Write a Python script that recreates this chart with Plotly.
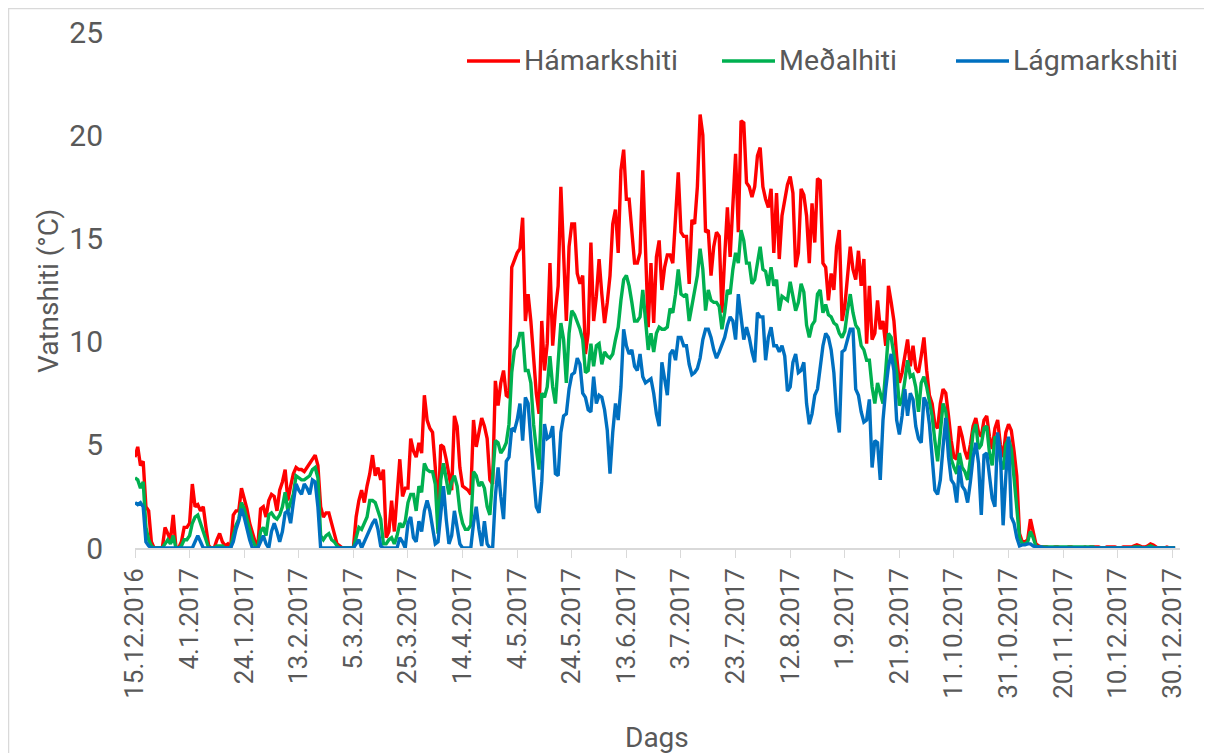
import pandas as pd
import plotly.graph_objects as go

# daily water temperature, 15.12.2016 - 31.12.2017
start_date = "2016-12-15"

hamark = [
    4.4, 4.9, 4.0, 4.2, 2.0, 1.8, 0.3, 0, 0, 0,
    0, 1.0, 0.7, 0.4, 1.6, 0, 0, 0.3, 1.0, 1.0,
    1.2, 3.1, 2.0, 2.1, 1.8, 2.0, 1.0, 0.1, 0, 0,
    0.4, 0.7, 0.3, 0.1, 0.2, 0, 1.6, 1.8, 1.8, 2.9,
    2.4, 1.9, 1.2, 0.7, 0.3, 0.1, 1.9, 2.0, 1.5, 2.3,
    2.6, 2.5, 1.8, 2.8, 3.2, 3.8, 2.3, 3.0, 3.6, 3.9,
    3.8, 3.8, 3.7, 3.9, 4.1, 4.3, 4.5, 4.0, 2.0, 1.5,
    1.7, 1.7, 1.2, 0.8, 0.2, 0.1, 0, 0, 0, 0,
    0, 1.5, 2.3, 2.8, 2.2, 3.0, 3.6, 4.5, 3.5, 3.9,
    3.3, 3.8, 0.5, 0.8, 2.3, 0.8, 2.5, 4.3, 2.5, 2.9,
    2.9, 5.3, 4.7, 4.4, 5.1, 4.6, 7.4, 6.2, 5.8, 5.6,
    3.9, 1.5, 5.0, 4.9, 4.3, 3.6, 2.8, 6.4, 5.9, 3.9,
    3.0, 2.9, 2.8, 2.6, 6.2, 4.9, 5.7, 6.3, 5.9, 5.3,
    3.3, 3.1, 8.1, 6.9, 8.0, 8.6, 7.4, 7.3, 13.6, 14.0,
    14.3, 14.5, 16.0, 11.0, 12.3, 11.0, 9.0, 7.5, 6.5, 11.0,
    8.6, 9.9, 13.8, 9.8, 11.5, 12.7, 17.5, 14.4, 11.0, 14.6,
    15.7, 15.7, 13.3, 12.8, 13.2, 9.4, 10.4, 14.8, 11.0, 12.2,
    14.0, 12.3, 10.9, 11.9, 13.2, 15.7, 16.4, 14.3, 18.3, 19.3,
    16.9, 16.9, 15.3, 13.8, 13.8, 14.3, 18.3, 14.0, 10.7, 13.8,
    10.9, 14.1, 14.9, 12.5, 13.6, 14.2, 14.2, 13.8, 16.4, 18.2,
    15.3, 15.1, 15.1, 12.8, 15.9, 15.7, 17.5, 21.0, 20.0, 15.3,
    15.4, 13.2, 14.6, 15.3, 15.1, 11.4, 14.1, 16.5, 14.1, 17.0,
    19.1, 15.3, 20.7, 20.6, 17.7, 17.5, 17.0, 17.5, 19.0, 19.4,
    17.5, 16.9, 16.5, 17.4, 14.3, 17.2, 14.0, 16.1, 16.8, 17.6,
    18.0, 17.2, 13.6, 14.3, 17.4, 17.1, 16.1, 13.8, 16.7, 14.8,
    17.9, 17.8, 13.8, 13.6, 12.0, 13.3, 12.5, 14.6, 15.4, 11.0,
    11.7, 13.3, 14.6, 13.5, 13.0, 14.4, 12.7, 14.0, 9.9, 12.7,
    10.1, 10.4, 12.0, 10.6, 11.0, 9.8, 12.7, 11.9, 11.0, 9.3,
    8.0, 8.5, 9.4, 10.1, 8.8, 9.8, 8.7, 8.5, 9.3, 10.2,
    8.6, 7.4, 7.0, 6.0, 5.8, 7.0, 7.7, 7.5, 6.4, 5.2,
    4.4, 4.3, 5.9, 5.4, 4.7, 4.3, 5.0, 5.9, 6.3, 5.6,
    5.4, 6.2, 6.4, 5.4, 4.8, 5.8, 6.2, 5.0, 4.4, 5.6,
    6.0, 5.7, 4.7, 3.5, 0.7, 0.3, 0.3, 0.4, 1.4, 0.8,
    0.2, 0.1, 0.05, 0.05, 0.05, 0, 0, 0.05, 0.05, 0,
    0, 0, 0.05, 0.05, 0, 0, 0, 0, 0.05, 0,
    0.05, 0.05, 0.05, 0.05, 0, 0, 0.05, 0.05, 0.05, 0.05,
    0, 0, 0.05, 0.05, 0.05, 0.05, 0.1, 0.15, 0.1, 0.05,
    0.05, 0.1, 0.2, 0.15, 0.05, 0, 0, 0, 0.05, 0,
    0, 0,
]

medal = [
    3.4, 3.3, 2.9, 3.2, 1.0, 0.4, 0.1, 0, 0, 0,
    0, 0.2, 0.4, 0.2, 0.6, 0, 0, 0.1, 0.4, 0.4,
    0.6, 1.2, 1.5, 1.6, 1.2, 0.9, 0.4, 0, 0, 0,
    0.1, 0.1, 0.1, 0, 0, 0, 0.6, 1.1, 1.4, 2.2,
    1.9, 1.4, 0.9, 0.4, 0.1, 0, 0.8, 1.0, 0.6, 1.6,
    1.7, 1.5, 1.4, 1.6, 2.0, 2.7, 1.8, 2.2, 2.6, 3.5,
    3.4, 3.3, 3.3, 3.4, 3.5, 3.8, 3.9, 3.4, 0.6, 0.4,
    0.6, 0.7, 0.4, 0.3, 0.1, 0, 0, 0, 0, 0,
    0, 0.5, 1.0, 0.9, 1.2, 1.5, 2.3, 2.3, 2.2, 1.8,
    1.4, 0.2, 0.2, 0.4, 0.5, 0.2, 0.6, 1.2, 1.0, 1.3,
    2.2, 2.6, 2.6, 1.8, 3.0, 2.7, 4.1, 3.8, 3.7, 3.7,
    3.1, 0.7, 3.3, 4.1, 3.4, 2.6, 3.2, 3.5, 3.0, 1.8,
    1.2, 0.9, 0.9, 1.1, 3.7, 3.5, 3.0, 3.2, 2.9, 2.0,
    1.6, 3.5, 5.2, 5.1, 4.6, 4.8, 5.1, 6.0, 8.5, 9.6,
    9.8, 10.4, 10.4, 8.6, 8.6, 8.0, 6.0, 4.8, 3.8, 7.5,
    7.3, 7.8, 9.3, 7.8, 7.0, 9.0, 10.9, 10.1, 8.0, 10.4,
    11.5, 11.3, 11.0, 10.6, 10.1, 8.5, 8.6, 9.9, 8.8, 9.8,
    9.9, 8.9, 9.5, 9.3, 9.2, 9.4, 10.1, 10.7, 12.0, 13.0,
    13.2, 12.7, 11.9, 11.0, 11.0, 11.2, 12.5, 11.2, 9.6, 10.4,
    9.5, 10.4, 10.7, 10.6, 10.6, 10.7, 11.6, 11.4, 12.3, 13.5,
    12.3, 12.2, 12.3, 11.0, 11.7, 12.3, 13.2, 14.5, 13.5, 11.5,
    12.5, 12.0, 11.9, 11.9, 11.7, 10.6, 11.4, 12.5, 12.3, 13.5,
    14.3, 13.8, 15.4, 14.9, 13.8, 13.8, 12.8, 13.0, 13.8, 14.6,
    13.5, 13.4, 12.7, 13.6, 12.7, 13.0, 11.5, 12.2, 12.1, 12.0,
    12.9, 12.2, 11.5, 11.9, 12.8, 12.4, 10.8, 10.2, 10.8, 11.0,
    12.3, 12.5, 11.4, 11.8, 11.3, 11.2, 10.9, 10.8, 10.4, 10.2,
    10.5, 11.5, 12.3, 11.4, 10.8, 10.6, 9.8, 9.6, 9.1, 9.1,
    7.8, 7.0, 8.0, 7.5, 7.0, 8.6, 10.4, 10.2, 9.3, 8.5,
    6.9, 7.2, 8.1, 9.1, 8.3, 8.4, 7.8, 6.6, 8.0, 8.3,
    7.8, 7.0, 6.4, 5.2, 4.2, 5.6, 7.0, 6.6, 5.6, 4.3,
    3.9, 3.6, 4.6, 3.9, 3.7, 3.3, 4.3, 5.6, 6.0, 4.8,
    5.0, 5.8, 5.9, 4.6, 4.0, 5.4, 5.3, 4.2, 3.8, 5.0,
    5.3, 4.8, 3.4, 2.0, 0.5, 0.2, 0.2, 0.3, 0.8, 0.5,
    0.1, 0.05, 0.05, 0.05, 0.05, 0.05, 0.05, 0.05, 0.05, 0.05,
    0.05, 0.05, 0.05, 0.05, 0.05, 0.05, 0.05, 0.05, 0.05, 0.05,
    0.05, 0.05, 0, 0, 0, 0, 0, 0, 0, 0,
    0, 0, 0, 0, 0, 0, 0.05, 0.05, 0.05, 0,
    0, 0.05, 0.1, 0.05, 0, 0, 0, 0, 0, 0,
    0, 0,
]

lagmark = [
    2.2, 2.1, 2.2, 2.0, 0.3, 0.1, 0, 0, 0, 0,
    0, 0, 0, 0, 0, 0, 0, 0, 0, 0,
    0, 0, 0.3, 0.6, 0.3, 0, 0, 0, 0, 0,
    0, 0, 0, 0, 0, 0, 0.3, 0.9, 1.3, 1.9,
    1.5, 0.9, 0.4, 0, 0, 0, 0.3, 0.6, 0.2, 0,
    0.8, 1.2, 0.8, 0.3, 0.8, 1.7, 1.8, 1.2, 2.2, 3.1,
    2.8, 2.6, 3.1, 2.9, 2.6, 3.3, 3.2, 2.0, 0, 0,
    0, 0, 0, 0, 0, 0, 0, 0, 0, 0,
    0, 0.2, 0.4, 0, 0.3, 0.6, 1.0, 1.2, 1.4, 0.9,
    0.1, 0, 0, 0, 0, 0, 0, 0.5, 0.3, 0,
    1.2, 1.5, 0.5, 0.3, 1.3, 0.8, 1.8, 2.3, 1.8, 1.0,
    0.2, 0.3, 1.6, 3.0, 1.4, 0.2, 0.6, 1.8, 1.0, 0.2,
    0, 0, 0, 0, 1.2, 2.0, 0.9, 0.1, 1.3, 0.2,
    0, 0, 2.5, 3.9, 2.5, 1.4, 4.2, 4.4, 5.8, 5.7,
    6.2, 7.0, 5.2, 7.3, 7.0, 5.0, 3.5, 2.0, 1.7, 3.2,
    6.0, 5.3, 5.4, 5.9, 3.6, 3.5, 5.6, 6.4, 6.5, 7.7,
    8.4, 8.5, 9.2, 8.9, 7.5, 7.3, 6.7, 6.6, 8.3, 7.0,
    7.4, 7.3, 6.7, 5.7, 3.6, 5.6, 7.0, 6.2, 7.8, 10.6,
    9.8, 9.4, 9.6, 8.8, 8.6, 9.4, 8.3, 8.0, 8.1, 8.2,
    7.5, 6.5, 5.9, 9.0, 8.2, 7.4, 9.4, 9.6, 9.1, 10.2,
    10.2, 9.8, 9.8, 8.9, 8.4, 8.5, 8.7, 9.2, 10.1, 10.6,
    10.6, 10.2, 9.6, 9.2, 9.5, 9.8, 10.2, 10.8, 11.2, 11.0,
    10.1, 12.3, 11.2, 10.1, 10.7, 10.2, 9.5, 9.0, 11.4, 11.2,
    11.2, 9.1, 10.2, 10.7, 9.8, 9.8, 9.5, 9.8, 9.3, 7.6,
    7.8, 9.0, 9.4, 8.5, 8.6, 9.0, 7.0, 6.0, 6.5, 7.4,
    7.7, 8.8, 9.8, 10.4, 10.2, 9.6, 8.5, 6.5, 5.6, 9.5,
    9.6, 10.1, 10.6, 10.6, 7.7, 7.4, 6.6, 6.1, 6.2, 7.2,
    3.9, 5.2, 5.1, 3.3, 6.2, 7.7, 8.8, 9.4, 8.6, 6.2,
    5.5, 6.4, 7.7, 6.4, 7.5, 7.2, 5.9, 5.3, 5.1, 7.3,
    7.0, 6.0, 4.6, 2.8, 2.6, 3.3, 4.9, 6.3, 4.4, 3.3,
    3.1, 2.2, 4.0, 3.0, 2.8, 2.2, 3.2, 4.4, 5.1, 4.1,
    1.6, 4.5, 4.6, 3.6, 2.4, 2.0, 5.6, 4.6, 1.1, 3.5,
    5.4, 1.5, 1.2, 0.5, 0.1, 0.15, 0.15, 0.2, 0.2, 0.1,
    0.05, 0.05, 0.05, 0, 0, 0, 0, 0, 0, 0,
    0, 0, 0, 0, 0, 0, 0, 0, 0, 0,
    0, 0, 0, 0, 0, 0, 0, 0, 0, 0,
    0, 0, 0, 0, 0, 0, 0, 0, 0, 0,
    0, 0, 0, 0, 0, 0, 0, 0, 0, 0,
    0, 0,
]

series_names = ["Hámarkshiti", "Meðalhiti", "Lágmarkshiti"]
series_colors = ["#FF0000", "#00B050", "#0070C0"]

tick_labels = ["15.12.2016", "4.1.2017", "24.1.2017", "13.2.2017", "5.3.2017",
               "25.3.2017", "14.4.2017", "4.5.2017", "24.5.2017", "13.6.2017",
               "3.7.2017", "23.7.2017", "12.8.2017", "1.9.2017", "21.9.2017",
               "11.10.2017", "31.10.2017", "20.11.2017", "10.12.2017", "30.12.2017"]

dates = pd.date_range(start_date, periods=len(hamark), freq="D")
tick_vals = pd.to_datetime(tick_labels, format="%d.%m.%Y")

FONT = "Roboto, sans-serif"
GREY = "#595959"

# the page puts the figure 8px in from the top-left corner,
# so the figure is made 8px smaller to fit the window exactly
OFF = 8
W, H = 1212 - OFF, 753 - OFF
# plot area in figure pixels
L, R, T, B = 135 - OFF, 1180 - OFF, 32 - OFF, 548 - OFF


def px(x):
    return (x - OFF - L) / (R - L)


def py(y):
    return (B - (y - OFF)) / (B - T)


fig = go.Figure()
for name, vals, color in zip(series_names, [hamark, medal, lagmark], series_colors):
    fig.add_trace(go.Scatter(x=dates, y=vals, mode="lines", name=name,
                             line=dict(color=color, width=3.4), showlegend=False))

# chart frame: only its left and top edges fall inside the picture
shapes = [dict(type="rect", xref="paper", yref="paper",
               x0=px(8.5), x1=px(1240), y0=py(780), y1=py(8.5),
               line=dict(color="#d9d9d9", width=1.5), layer="below")]

# legend drawn by hand so the line keys are as long as in the original
annotations = []
legend_x = [467, 722, 956]
for name, color, x0 in zip(series_names, series_colors, legend_x):
    shapes.append(dict(type="line", xref="paper", yref="paper",
                       x0=px(x0), x1=px(x0 + 53), y0=py(61), y1=py(61),
                       line=dict(color=color, width=3.5)))
    annotations.append(dict(text=name, xref="paper", yref="paper",
                            x=px(x0 + 55), y=py(61), xanchor="left", yanchor="middle",
                            showarrow=False, font=dict(size=28.5, color=GREY)))

# axis titles
annotations.append(dict(text="Dags", xref="paper", yref="paper",
                        x=px(657), y=py(737), xanchor="center", yanchor="middle",
                        showarrow=False, font=dict(size=28, color=GREY)))
annotations.append(dict(text="Vatnshiti (°C)", xref="paper", yref="paper",
                        x=px(48), y=py(291), xanchor="center", yanchor="middle",
                        textangle=-90, showarrow=False, font=dict(size=28, color=GREY)))

fig.update_layout(
    width=W, height=H,
    margin=dict(l=L, r=W - R, t=T, b=H - B),
    paper_bgcolor="white", plot_bgcolor="white",
    font=dict(family=FONT, color=GREY, size=28),
    shapes=shapes, annotations=annotations,
)
fig.update_xaxes(
    range=["2016-12-15", "2018-01-01 19:00"],
    tickvals=tick_vals, ticktext=tick_labels, tickangle=-90,
    tickfont=dict(size=26, color=GREY), automargin=False,
    showgrid=False, showline=True, linecolor="#d9d9d9", linewidth=1.5,
    ticks="outside", ticklen=8, tickcolor="#d9d9d9",
)
fig.update_yaxes(
    range=[0, 25], dtick=5, showgrid=False, zeroline=False, showline=False,
    tickfont=dict(size=30, color=GREY), ticks="", ticklabelstandoff=31,
    automargin=False,
)

fig.write_html("out.html")
